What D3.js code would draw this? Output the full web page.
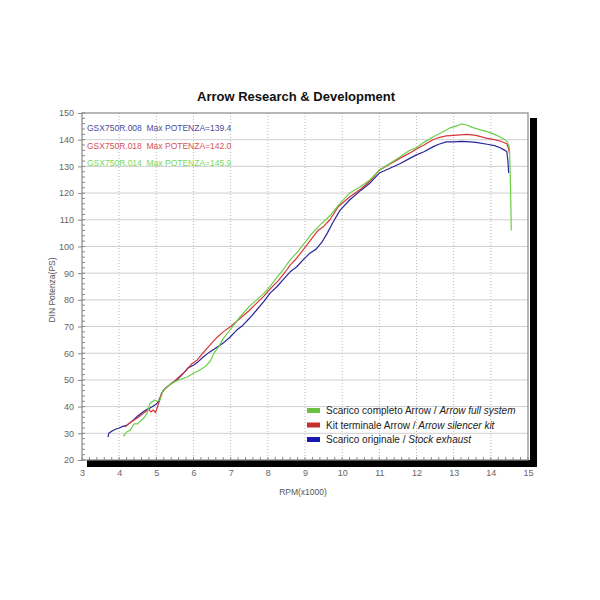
<!DOCTYPE html>
<html><head><meta charset="utf-8">
<script src="https://cdn.jsdelivr.net/npm/d3@7"></script>
<style>body{margin:0;background:#fff}svg{display:block}</style>
</head><body><svg id="c" width="600" height="600"></svg>
<script>
const title = "Arrow Research & Development";
const xTicks = [3,4,5,6,7,8,9,10,11,12,13,14,15];
const yTicks = [20,30,40,50,60,70,80,90,100,110,120,130,140,150];
const infoLines = ["GSX750R.008  Max POTENZA=139.4","GSX750R.018  Max POTENZA=142.0","GSX750R.014  Max POTENZA=145.9"];
const legendNormal = ["Scarico completo Arrow / ","Kit terminale Arrow / ","Scarico originale / "];
const legendItalic = ["Arrow full system","Arrow silencer kit","Stock exhaust"];
const stockRpm = [3.70,3.72,3.8,3.9,4.0,4.1,4.2,4.3,4.4,4.5,4.64,4.75,4.83,4.92,5.0,5.05,5.12,5.18,5.3,5.45,5.55,5.7,5.85,6.0,6.1,6.25,6.44,6.6,6.8,6.98,7.15,7.33,7.5,7.7,7.9,8.06,8.25,8.4,8.6,8.77,8.95,9.13,9.3,9.45,9.6,9.75,9.94,10.2,10.5,10.75,11.0,11.3,11.55,11.82,12.0,12.2,12.44,12.6,12.8,13.0,13.2,13.36,13.6,13.9,14.1,14.25,14.38,14.43,14.46,14.48];
const stockVal = [28.6,30,30.8,31.5,32,32.6,33,34,35.2,36.5,38,39,39.5,40.2,41,41.7,44,46,47.5,49.2,50,52,54.5,55.5,56.5,58.5,60.5,62,63.8,66,68.5,70.5,73,76.2,79.5,82.5,85,87.4,90.5,92.3,95,97.5,99,101.5,105,109,113.5,117.4,121,123.8,127.5,129.4,131,133,134.3,135.5,137.3,138.3,139.2,139.2,139.4,139.3,139,138.3,137.8,137,136,135.5,132,127.5];
const silRpm = [4.16,4.25,4.35,4.5,4.65,4.8,4.85,4.92,4.98,5.02,5.08,5.14,5.25,5.45,5.6,5.8,5.95,6.1,6.25,6.44,6.6,6.8,7.0,7.25,7.5,7.7,7.9,8.06,8.3,8.5,8.6,8.77,8.95,9.13,9.35,9.5,9.67,9.9,10.2,10.5,10.75,11.0,11.3,11.55,11.82,12.0,12.2,12.44,12.6,12.8,13.0,13.36,13.6,13.9,14.1,14.25,14.43,14.47,14.5];
const silVal = [32.4,33.5,34.5,35.8,37.5,39,38,38.7,37.8,39.5,42,45,47,49,51,53.5,56,57.5,60,63,65.5,68,70,73,76,78.8,81.5,84,87.5,91,93,95.5,98.7,102,106,107.5,110,115,118.5,121.5,124.5,128.6,131,133,135,136.5,138,140,140.8,141.4,141.6,142,141.6,140.5,140,139.5,138.5,137,135];
const fullRpm = [4.11,4.13,4.2,4.3,4.4,4.5,4.56,4.65,4.75,4.82,4.88,4.95,5.02,5.1,5.18,5.3,5.45,5.6,5.82,6.0,6.17,6.3,6.45,6.55,6.66,6.8,7.0,7.25,7.5,7.7,7.9,8.06,8.25,8.4,8.6,8.77,9.05,9.13,9.4,9.67,9.9,10.2,10.5,10.75,11.0,11.3,11.55,11.82,12.0,12.2,12.44,12.65,12.9,13.05,13.2,13.35,13.5,13.7,13.9,14.1,14.25,14.38,14.45,14.5,14.52,14.54,14.55];
const fullVal = [29.4,29,30.5,31.2,33.5,33.5,34.5,35.5,37.5,41,41.7,42.5,42,42.5,46,47.5,49,50,51,52.5,53.7,54.8,57,60,62,65.5,69,73.6,77.5,80,82.5,85,88.5,91,95,97.5,102.4,104,108,111.5,115.5,120,122.5,125,128.6,131.3,133.5,136,137,139,141,142.5,144.4,145,145.9,145.5,144.6,143.8,143,142,141,140,139,137,128,115,106];

const svg = d3.select("#c");
const L = 82, R = 528, T = 113, B = 460;
const x = d3.scaleLinear().domain([3,15]).range([L,R]);
const y = d3.scaleLinear().domain([20,150]).range([B,T]);
const font = "Liberation Sans, Arial, sans-serif";

// shadow
svg.append("rect").attr("x", L+5).attr("y", B).attr("width", R-L+3).attr("height", 7).attr("fill","#000");
svg.append("rect").attr("x", R+2).attr("y", T+5).attr("width", 7).attr("height", B-T+2).attr("fill","#000");
svg.append("rect").attr("x", L).attr("y", T).attr("width", R-L).attr("height", B-T).attr("fill","#fff");

// grid
svg.append("g").selectAll("line").data(yTicks.slice(1,-1)).join("line")
  .attr("x1", L).attr("x2", R).attr("y1", d=>y(d)).attr("y2", d=>y(d))
  .attr("stroke","#cfcfcf").attr("stroke-width",1);
svg.append("g").selectAll("line").data(xTicks.slice(1,-1)).join("line")
  .attr("y1", T).attr("y2", B).attr("x1", d=>x(d)).attr("x2", d=>x(d))
  .attr("stroke","#bbb").attr("stroke-width",1).attr("stroke-dasharray","1,2");

// minor ticks
svg.append("g").selectAll("line").data(d3.range(3,15.001,0.2)).join("line")
  .attr("x1", d=>x(d)).attr("x2", d=>x(d)).attr("y1", B).attr("y2", B-3).attr("stroke","#888");
svg.append("g").selectAll("line").data(d3.range(20,150.001,2)).join("line")
  .attr("x1", L).attr("x2", L+3).attr("y1", d=>y(d)).attr("y2", d=>y(d)).attr("stroke","#888");

svg.append("rect").attr("x", L).attr("y", T).attr("width", R-L).attr("height", B-T)
  .attr("fill","none").attr("stroke","#888").attr("stroke-width",1.2);

// axes labels
const xa = svg.append("g").attr("transform",`translate(0,${B})`)
  .call(d3.axisBottom(x).tickValues(xTicks).tickFormat(d3.format("d")).tickSize(0).tickPadding(10));
xa.select(".domain").remove();
xa.selectAll("text").attr("font-family",font).attr("font-size",9).attr("fill","#666");
const ya = svg.append("g").attr("transform",`translate(${L},0)`)
  .call(d3.axisLeft(y).tickValues(yTicks).tickSize(4).tickPadding(4));
ya.select(".domain").remove();
ya.selectAll("line").attr("stroke","#888");
ya.selectAll("text").attr("font-family",font).attr("font-size",9).attr("fill","#666");

svg.append("text").attr("x",303).attr("y",495).attr("text-anchor","middle")
  .attr("font-family",font).attr("font-size",8.5).attr("fill","#555").text("RPM(x1000)");
svg.append("text").attr("transform","translate(55,290) rotate(-90)").attr("text-anchor","middle")
  .attr("font-family",font).attr("font-size",8.5).attr("fill","#555").text("DIN Potenza(PS)");
svg.append("text").attr("x",296).attr("y",101).attr("text-anchor","middle")
  .attr("font-family",font).attr("font-size",13).attr("font-weight","bold").attr("fill","#111").text(title);

// curves
const line = d3.line().x(d=>x(d[0])).y(d=>y(d[1]));
const series = [
  {r: stockRpm, v: stockVal, c: "#26269a"},
  {r: silRpm, v: silVal, c: "#d8343c"},
  {r: fullRpm, v: fullVal, c: "#6ccf48"}
];
series.forEach(s => {
  svg.append("path").datum(d3.zip(s.r, s.v)).attr("d", line)
    .attr("fill","none").attr("stroke", s.c).attr("stroke-width",1.2).attr("stroke-linejoin","round");
});

// info text
const infoColors = ["#4b4ba0","#d8505a","#7ad85a"];
svg.append("g").selectAll("text").data(infoLines).join("text")
  .attr("x",87).attr("y",(d,i)=>131+i*17.5).style("white-space","pre")
  .attr("font-family",font).attr("font-size",8.5).attr("fill",(d,i)=>infoColors[i]).text(d=>d);

// legend
const legColors = ["#6cc040","#c83030","#1818b0"];
const lg = svg.append("g");
legendNormal.forEach((t,i) => {
  const yy = 414 + i*14.5;
  lg.append("rect").attr("x",307).attr("y",yy-6).attr("width",13).attr("height",5).attr("fill",legColors[i]);
  const tx = lg.append("text").attr("x",326).attr("y",yy).attr("font-family",font).attr("font-size",10).attr("fill","#222");
  tx.append("tspan").text(t);
  tx.append("tspan").attr("font-style","italic").text(legendItalic[i]);
});
</script></body></html>
